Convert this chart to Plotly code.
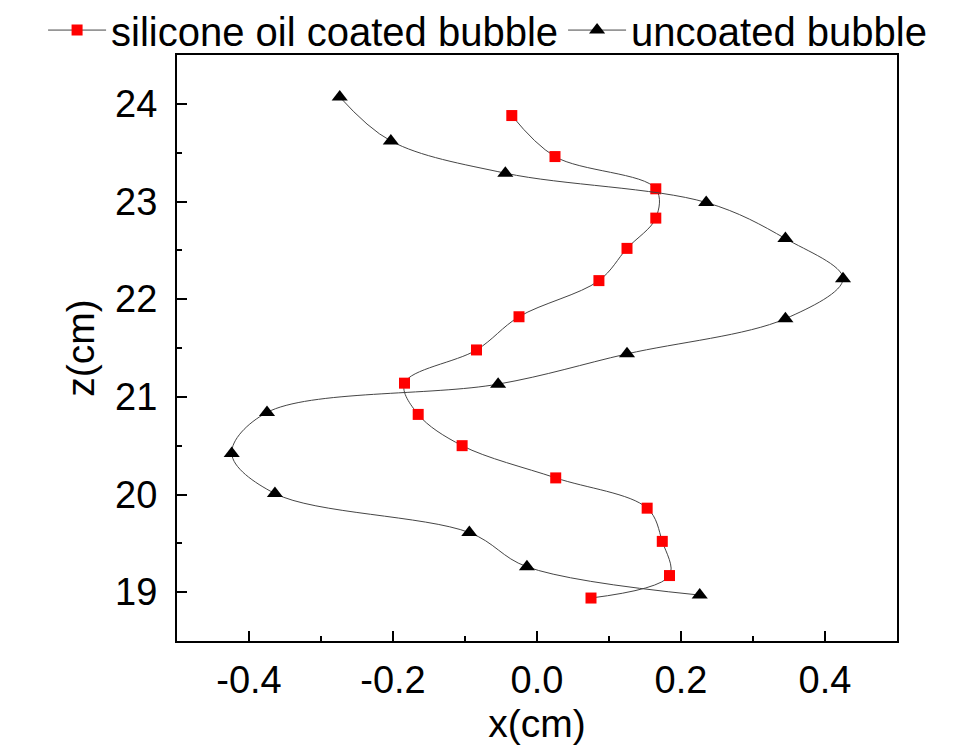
import plotly.graph_objects as go

coated_x = [-0.035, 0.025, 0.165, 0.165, 0.125, 0.086, -0.025, -0.084, -0.184, -0.165, -0.104, 0.026, 0.153, 0.174, 0.184, 0.075]
coated_z = [23.88, 23.46, 23.13, 22.83, 22.52, 22.19, 21.82, 21.48, 21.14, 20.82, 20.50, 20.17, 19.86, 19.52, 19.17, 18.94]

uncoated_x = [-0.274, -0.203, -0.044, 0.235, 0.345, 0.425, 0.345, 0.125, -0.054, -0.375, -0.424, -0.364, -0.094, -0.014, 0.226]
uncoated_z = [24.07, 23.62, 23.29, 22.99, 22.62, 22.21, 21.80, 21.44, 21.13, 20.84, 20.42, 20.01, 19.61, 19.26, 18.97]

x_ticks = [-0.4, -0.2, 0.0, 0.2, 0.4]
x_tick_labels = ["-0.4", "-0.2", "0.0", "0.2", "0.4"]
z_ticks = [19, 20, 21, 22, 23, 24]

FONT = "Liberation Sans, Arial, sans-serif"

fig = go.Figure()
fig.add_trace(go.Scatter(
    x=coated_x, y=coated_z, mode="lines+markers",
    name="silicone oil coated bubble",
    line=dict(color="#454545", width=1, shape="spline", smoothing=1.0),
    marker=dict(symbol="square", size=11, color="#ff0000", line=dict(width=0)),
))
fig.add_trace(go.Scatter(
    x=uncoated_x, y=uncoated_z, mode="lines+markers",
    name="uncoated bubble",
    line=dict(color="#454545", width=1, shape="spline", smoothing=1.0),
    marker=dict(symbol="triangle-up", size=14, color="#000000", line=dict(width=0)),
))

axis_common = dict(
    showline=True, linecolor="black", linewidth=2, mirror=True,
    ticks="inside", ticklen=10, tickwidth=2, tickcolor="black",
    showgrid=False, zeroline=False,
    tickfont=dict(family=FONT, size=38, color="black"),
    title_font=dict(family=FONT, size=39, color="black"),
)

fig.update_xaxes(
    range=[-0.5, 0.5], tickvals=x_ticks, ticktext=x_tick_labels,
    minor=dict(dtick=0.1, tick0=0, ticks="inside", ticklen=5, tickwidth=2, tickcolor="black"),
    ticklabelstandoff=4,
    title_text="x(cm)", title_standoff=10, **axis_common,
)
fig.update_yaxes(
    range=[18.5, 24.5], tickvals=z_ticks,
    minor=dict(dtick=0.5, tick0=0, ticks="inside", ticklen=5, tickwidth=2, tickcolor="black"),
    ticklabelstandoff=10,
    title_text="z(cm)", title_standoff=8, **axis_common,
)

# page body adds an 8px offset; sizes below compensate so the plot frame
# lands at the reference's pixel positions
fig.update_layout(
    width=956, height=741,
    margin=dict(l=169, r=67, t=47, b=108, autoexpand=False),
    paper_bgcolor="white", plot_bgcolor="white",
    font=dict(family=FONT, color="black"),
    showlegend=True,
    legend=dict(
        orientation="h", xref="paper", yref="paper",
        x=-0.186, y=1.098, xanchor="left", yanchor="top",
        font=dict(family=FONT, size=40, color="black"),
        bgcolor="rgba(0,0,0,0)", itemwidth=58,
        tracegroupgap=0,
    ),
)

fig.write_html("out.html")
